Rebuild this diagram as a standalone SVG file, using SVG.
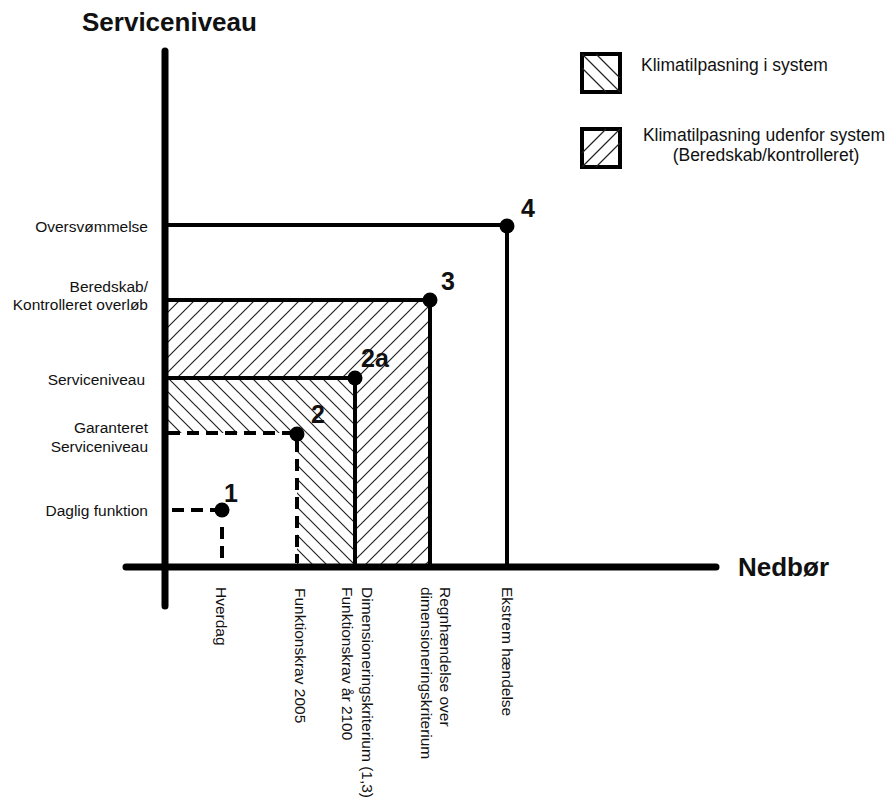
<svg xmlns="http://www.w3.org/2000/svg" width="895" height="803" viewBox="0 0 895 803">
<style>
text{font-family:"Liberation Sans",Arial,sans-serif;fill:#111}
.lbl{font-size:15.5px}
.leg{font-size:17.5px}
.big{font-size:26px;font-weight:bold}
.num{font-size:25px;font-weight:bold}
.axis{stroke:#000;stroke-width:7;stroke-linecap:round;fill:none}
.ln{stroke:#000;stroke-width:4;fill:none}
.dash{stroke:#000;stroke-width:4;fill:none;stroke-dasharray:12 7}
.hl{stroke:#222;stroke-width:1.2}
.dot{fill:#000}
</style>
<defs>
<pattern id="fwd" patternUnits="userSpaceOnUse" x="0" y="0" width="15" height="15">
<path d="M-3,3 L3,-3 M0,15 L15,0 M12,18 L18,12" stroke="#222" stroke-width="1.2"/>
</pattern>
<pattern id="bwd" patternUnits="userSpaceOnUse" x="0" y="0" width="14" height="14">
<path d="M-3,11 L3,17 M0,0 L14,14 M11,-3 L17,3" stroke="#222" stroke-width="1.2"/>
</pattern>
</defs>
<rect width="895" height="803" fill="#fff"/>

<g id="hatch">
<polygon points="165,300 430,300 430,567 355,567 355,378 165,378" fill="url(#fwd)"/>
<polygon points="165,378 355,378 355,567 297,567 297,433 165,433" fill="url(#bwd)"/>
</g>

<g id="connectors">
<line class="ln" x1="165" y1="225" x2="507" y2="225"/>
<line class="ln" x1="507" y1="225" x2="507" y2="567"/>
<line class="ln" x1="165" y1="300" x2="430" y2="300"/>
<line class="ln" x1="430" y1="300" x2="430" y2="567"/>
<line class="ln" x1="165" y1="378" x2="355" y2="378"/>
<line class="ln" x1="355" y1="378" x2="355" y2="567"/>
<line class="dash" x1="168" y1="433" x2="297" y2="433"/>
<line class="dash" x1="297" y1="440" x2="297" y2="563"/>
<line class="dash" x1="172" y1="510" x2="222" y2="510"/>
<line class="dash" x1="222" y1="527" x2="222" y2="560"/>
</g>

<g id="axes">
<line class="axis" x1="165" y1="51" x2="165" y2="606"/>
<line class="axis" x1="126" y1="567" x2="716" y2="567"/>
<text class="big" x="82" y="31">Serviceniveau</text>
<text class="big" x="738" y="576">Nedbør</text>
</g>

<g id="p1"><circle class="dot" cx="222" cy="510" r="7.5"/><text class="num" x="224" y="502">1</text></g>
<g id="p2"><circle class="dot" cx="297" cy="434" r="7.5"/><text class="num" x="311" y="423">2</text></g>
<g id="p2a"><circle class="dot" cx="355" cy="378" r="7.5"/><text class="num" x="361" y="367">2a</text></g>
<g id="p3"><circle class="dot" cx="430" cy="300" r="7.5"/><text class="num" x="441" y="290">3</text></g>
<g id="p4"><circle class="dot" cx="507" cy="226" r="7.5"/><text class="num" x="521" y="217">4</text></g>

<g id="ylabels" class="lbl" text-anchor="end">
<text x="148" y="232">Oversvømmelse</text>
<text x="148" y="292">Beredskab/</text>
<text x="148" y="310">Kontrolleret overløb</text>
<text x="145" y="385">Serviceniveau</text>
<text x="148" y="433">Garanteret</text>
<text x="148" y="452">Serviceniveau</text>
<text x="148" y="516">Daglig funktion</text>
</g>

<g id="xlabels" class="lbl">
<text transform="translate(216,587) rotate(90)">Hverdag</text>
<text transform="translate(295,588) rotate(90)">Funktionskrav 2005</text>
<text transform="translate(362,587) rotate(90)">Dimensioneringskriterium (1,3)</text>
<text transform="translate(342,587) rotate(90)">Funktionskrav år 2100</text>
<text transform="translate(440,587) rotate(90)">Regnhændelse over</text>
<text transform="translate(421,587) rotate(90)">dimensioneringskriterium</text>
<text transform="translate(502,587) rotate(90)">Ekstrem hændelse</text>
</g>

<g id="legend1">
<rect x="582" y="54" width="38" height="38" fill="#fff" stroke="#000" stroke-width="4"/>
<path class="hl" d="M582,54 L620,92 M582,68 L606,92 M596,54 L620,78"/>
<text class="leg" x="641" y="71">Klimatilpasning i system</text>
</g>
<g id="legend2">
<rect x="582" y="129" width="38" height="38" fill="#fff" stroke="#000" stroke-width="4"/>
<path class="hl" d="M582,167 L620,129 M582,153 L606,129 M596,167 L620,143"/>
<text class="leg" x="764" y="141" text-anchor="middle">Klimatilpasning udenfor system</text>
<text class="leg" x="766" y="161" text-anchor="middle">(Beredskab/kontrolleret)</text>
</g>
</svg>
